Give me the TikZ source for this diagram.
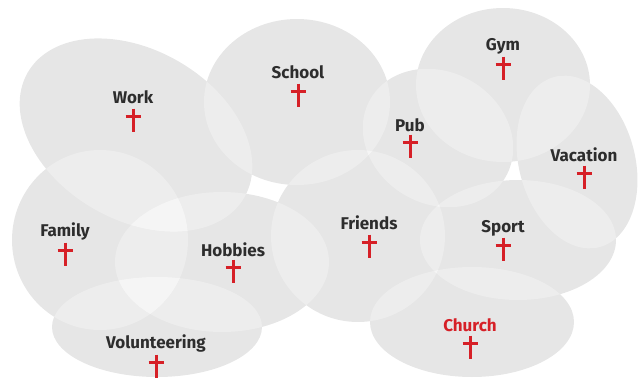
\documentclass[tikz,border=0pt]{standalone}
\usepackage{fontspec}
\setmainfont{Fira Sans}
\definecolor{BlobGray}{RGB}{230,230,230}
\definecolor{LabelInk}{RGB}{45,45,45}
\definecolor{CrossRed}{RGB}{214,32,39}
\usetikzlibrary{positioning}

% centre x / centre y / radius x / radius y / tilt
\newcommand{\blobs}{136/135/125/85/-30, 297/102/93/83/0, 503/85/87/77/0,
	438/138/78/66/-30, 577/162/58/88/15, 100/240/88/90/0, 222/262/107/70/0,
	358/236/87/86/0, 518/240/98/60/0, 157/327/105/50/0, 472/322/102/55/0}

\begin{document}
\begin{tikzpicture}[x=1pt, y=-1pt,
	lbl/.style={font=\fontsize{17}{17}\selectfont\bfseries, text=LabelInk, inner sep=0pt},
	crosspen/.style={draw=CrossRed, line width=3pt},
	crux/.pic={\draw[crosspen] (0,-11.5) -- (0,11.5);
		\draw[crosspen] (-7.5,-3.5) -- (7.5,-3.5);}]
	\useasboundingbox (0,0) rectangle (638,378);
	% grey blobs
	\foreach \cx/\cy/\rx/\ry/\ang in \blobs
		{\fill[BlobGray, rotate around={\ang:(\cx,\cy)}] (\cx,\cy) ellipse [x radius=\rx pt, y radius=\ry pt];}
	% lighter where two blobs meet
	\foreach \ax/\ay/\arx/\ary/\aang [count=\i] in \blobs
		\foreach \bx/\by/\brx/\bry/\bang [count=\j] in \blobs{
			\ifnum\j>\i
			\begin{scope}
				\clip[rotate around={\aang:(\ax,\ay)}] (\ax,\ay) ellipse [x radius=\arx pt, y radius=\ary pt];
				\fill[white, fill opacity=.3, rotate around={\bang:(\bx,\by)}] (\bx,\by) ellipse [x radius=\brx pt, y radius=\bry pt];
			\end{scope}
			\fi}
	% labels
	\node[lbl] (work) at (133,97) {Work};
	\node[lbl] (school) at (298,72) {School};
	\node[lbl] (gym) at (503,46) {Gym};
	\node[lbl] (pub) at (410,125) {Pub};
	\node[lbl] (vacation) at (584,155) {Vacation};
	\node[lbl] (family) at (65,231) {Family};
	\node[lbl] (hobbies) at (233,250) {Hobbies};
	\node[lbl] (friends) at (369,223) {Friends};
	\node[lbl] (sport) at (503,228) {Sport};
	\node[lbl, text=CrossRed] (church) at (470,325) {Church};
	\node[lbl] (volunteering) at (156,343) {Volunteering};
	% crosses
	\foreach \px/\py in {133/120, 298/95, 503/68, 410/146, 584/177, 65/254,
		233/271, 369/246, 503/249, 470/347, 156/366}
		{\pic at (\px,\py) {crux};}
\end{tikzpicture}
\end{document}
